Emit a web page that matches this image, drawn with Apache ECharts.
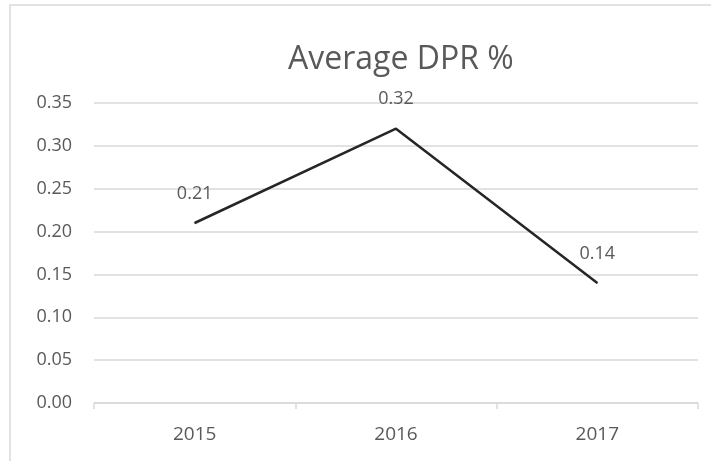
<!DOCTYPE html>
<html>
<head>
<meta charset="utf-8">
<script src="https://cdn.jsdelivr.net/npm/echarts@6/dist/echarts.min.js"></script>
<style>
  html, body { margin: 0; padding: 0; background: #ffffff; }
  #chart { width: 711px; height: 461px; }
</style>
</head>
<body>
<div id="chart"></div>
<script>
// Years on the category axis
const years = ['2015', '2016', '2017'];
// Average dividend payout ratio for each year
const avgDpr = [0.21, 0.32, 0.14];
// Value axis range and step
const yMin = 0;
const yMax = 0.35;
const yStep = 0.05;

const chart = echarts.init(document.getElementById('chart'), null, { renderer: 'canvas' });

const font = '"Open Sans", "Liberation Sans", sans-serif';

chart.setOption({
  backgroundColor: '#ffffff',
  animation: false,
  title: {
    text: 'Average DPR %',
    left: 283,
    top: 39,
    textStyle: { fontFamily: font, fontSize: 32, fontWeight: 'normal', color: '#595959' }
  },
  graphic: [{
    type: 'rect',
    shape: { x: 10, y: 5, width: 760, height: 520 },
    style: { fill: 'none', stroke: '#d9d9d9', lineWidth: 1.5 },
    silent: true,
    z: -1
  }],
  grid: { left: 94, right: 13, top: 103, bottom: 58 },
  xAxis: {
    type: 'category',
    data: years,
    boundaryGap: true,
    axisLine: { lineStyle: { color: '#d9d9d9', width: 1.5 } },
    axisTick: { show: true, length: 6, lineStyle: { color: '#d9d9d9', width: 1.5 } },
    axisLabel: { fontFamily: font, fontSize: 19, color: '#595959', margin: 22 }
  },
  yAxis: {
    type: 'value',
    min: yMin,
    max: yMax,
    interval: yStep,
    axisLine: { show: false },
    axisTick: { show: false },
    splitLine: { lineStyle: { color: '#d9d9d9', width: 1.5 } },
    axisLabel: {
      fontFamily: font, fontSize: 18, color: '#595959', margin: 22,
      formatter: v => v.toFixed(2)
    }
  },
  series: [{
    type: 'line',
    data: avgDpr,
    symbol: 'circle',
    symbolSize: 1,
    showSymbol: true,
    itemStyle: { color: '#262626' },
    lineStyle: { color: '#262626', width: 2.5 },
    label: {
      show: true,
      position: 'top',
      distance: 20,
      fontFamily: font,
      fontSize: 18,
      color: '#595959',
      formatter: p => p.value.toFixed(2)
    }
  }]
});
</script>
</body>
</html>
